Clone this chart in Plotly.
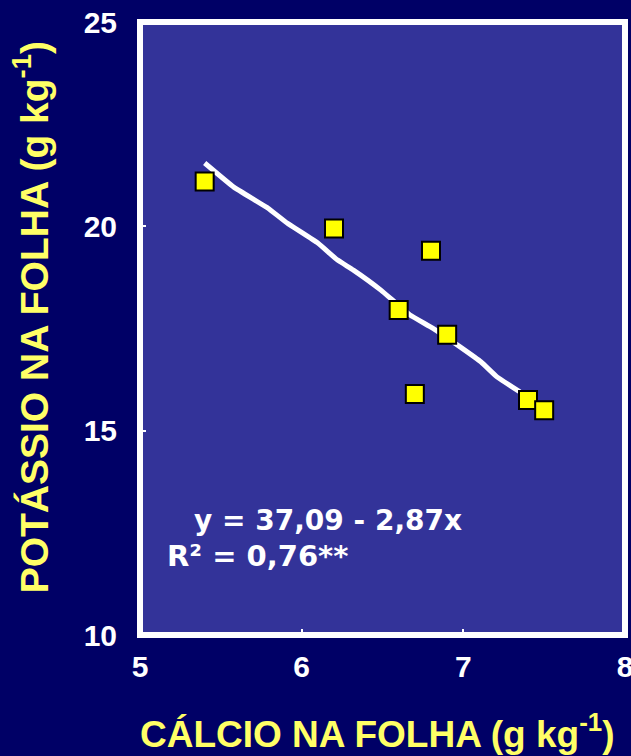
import plotly.graph_objects as go

# Data
calcio = [5.4, 6.2, 6.8, 6.6, 6.9, 6.7, 7.4, 7.5]
potassio = [21.1, 19.95, 19.4, 17.95, 17.35, 15.9, 15.75, 15.5]

# Trend line as drawn
trend_x = [5.40, 5.58, 5.79, 5.91, 6.10, 6.22, 6.32, 6.49, 6.67, 6.81, 6.98, 7.11, 7.21, 7.35]
trend_y = [21.55, 20.96, 20.45, 20.08, 19.59, 19.18, 18.93, 18.44, 17.83, 17.51, 17.05, 16.68, 16.31, 15.95]

x_ticks = [5, 6, 7, 8]
y_ticks = [10, 15, 20, 25]

equation = "y = 37,09 - 2,87x"
r2_text = "R² = 0,76**"
x_title = "CÁLCIO NA FOLHA (g kg<sup>-1</sup>)"
y_title = "POTÁSSIO NA FOLHA (g kg<sup>-1</sup>)"

NAVY = "#000066"
PLOT_BG = "#333399"
YELLOW_TXT = "#FFFF66"
TICK_FONT = dict(family="Liberation Sans, Arial, sans-serif", size=30, color="white",
                 weight="bold")

fig = go.Figure()
fig.add_trace(go.Scatter(
    x=trend_x, y=trend_y, mode="lines",
    line=dict(color="white", width=5, shape="spline", smoothing=0.3),
    hoverinfo="skip", showlegend=False,
))
fig.add_trace(go.Scatter(
    x=calcio, y=potassio, mode="markers",
    marker=dict(symbol="square", size=18, color="#FFFF00",
                line=dict(color="black", width=2)),
    showlegend=False,
))

fig.update_layout(
    width=631, height=756,
    paper_bgcolor=NAVY, plot_bgcolor=PLOT_BG,
    margin=dict(l=140, r=6, t=22, b=121),
    font=dict(family="Liberation Sans, Arial, sans-serif", color="white"),
    xaxis=dict(
        range=[5, 8], tickvals=x_ticks, ticktext=[str(v) for v in x_ticks],
        showgrid=False, zeroline=False, showline=False,
        ticks="inside", ticklen=6, tickwidth=2, tickcolor="white",
        tickfont=TICK_FONT,
        ticklabelstandoff=11, ticklabeloverflow="allow", automargin=False,
    ),
    yaxis=dict(
        range=[10, 25], tickvals=y_ticks, ticktext=[str(v) for v in y_ticks],
        showgrid=False, zeroline=False, showline=False,
        ticks="inside", ticklen=6, tickwidth=2, tickcolor="white",
        tickfont=TICK_FONT,
        ticklabelstandoff=22, ticklabeloverflow="allow", automargin=False,
    ),
    shapes=[dict(type="rect", xref="paper", yref="paper", x0=0, x1=1, y0=0, y1=1,
                 line=dict(color="white", width=6), layer="above")],
)

fig.add_annotation(x=5.32, y=12.79, xref="x", yref="y", text=equation,
                   showarrow=False, xanchor="left", yanchor="middle",
                   font=dict(family="DejaVu Sans, Verdana, sans-serif", size=28,
                             color="white", weight="bold"))
fig.add_annotation(x=5.155, y=11.93, xref="x", yref="y", text=r2_text,
                   showarrow=False, xanchor="left", yanchor="middle",
                   font=dict(family="DejaVu Sans, Verdana, sans-serif", size=29,
                             color="white", weight="bold"))

fig.add_annotation(x=0.489, y=-0.158, xref="paper", yref="paper", text=x_title,
                   showarrow=False, xanchor="center", yanchor="middle",
                   font=dict(family="Liberation Sans, Arial, sans-serif", size=37,
                             color=YELLOW_TXT, weight="bold"))
fig.add_annotation(x=-0.225, y=0.518, xref="paper", yref="paper", text=y_title,
                   showarrow=False, xanchor="center", yanchor="middle", textangle=-90,
                   font=dict(family="Liberation Sans, Arial, sans-serif", size=39,
                             color=YELLOW_TXT, weight="bold"))

fig.write_html(
    "out.html",
    config={"displayModeBar": False},
    post_script="document.body.style.margin='0';document.body.style.background='#000066';",
)
